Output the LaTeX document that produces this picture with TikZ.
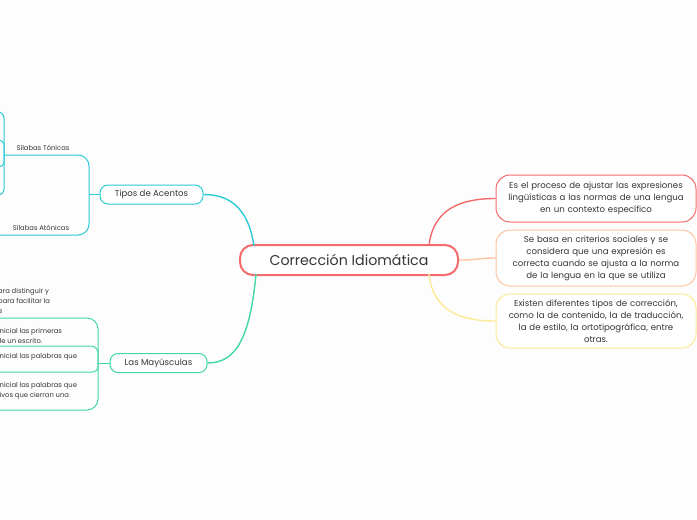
\documentclass[tikz,border=0pt]{standalone}
\usepackage{fontspec}
\setmainfont{Poppins}
\usepackage{xcolor}
\usepackage{tikz}
\usetikzlibrary{positioning}

\definecolor{coral}{HTML}{F36B6B}
\definecolor{peach}{HTML}{FDC39E}
\definecolor{lemon}{HTML}{FBEA96}
\definecolor{teal}{HTML}{2BCAD7}
\definecolor{mint}{HTML}{40D8A6}
\definecolor{ink}{HTML}{363636}
\definecolor{paper}{HTML}{FDFDFD}

\begin{document}
\begin{tikzpicture}[
  x=1pt, y=-1pt,
  root/.style={draw=coral, line width=2pt, fill=white, rounded corners=13pt, minimum width=218pt, minimum height=30pt, font=\fontsize{14.2}{16}\selectfont, text=ink},
  topic/.style={draw, line width=1pt, fill=white, rounded corners=8pt, minimum height=19pt, inner sep=0pt, font=\fontsize{8.6}{10}\selectfont, text=ink},
  note/.style={draw, line width=1pt, fill=white, rounded corners=14pt, minimum width=200pt, text width=192pt, align=center, inner sep=0pt, font=\fontsize{8.6}{12}\selectfont, text=ink},
  leaf/.style={inner sep=0pt, align=left, text=ink, font=\fontsize{6.8}{10}\selectfont},
  link/.style={line width=1.4pt},
  twig/.style={line width=1pt}
]
\fill[paper] (0,0) rectangle (697,520);
\clip (0,0) rectangle (697,520);

% centre and right side
\node[root] (root) at (349,260) {Corrección Idiomática};
\node[note, draw=coral, minimum height=47pt] (defn) at (596,198.5) {Es el proceso de ajustar las expresiones\\lingüísticas a las normas de una lengua\\en un contexto específico};
\node[note, draw=peach, minimum height=56pt] (basis) at (596,258) {Se basa en criterios sociales y se\\considera que una expresión es\\correcta cuando se ajusta a la norma\\de la lengua en la que se utiliza};
\node[note, draw=lemon, minimum height=54pt] (kinds) at (596,321) {Existen diferentes tipos de corrección,\\como la de contenido, la de traducción,\\la de estilo, la ortotipográfica, entre\\otras.};

\draw[link, coral] (429,246) .. controls (433,208) and (462,198.5) .. (defn.west);
\draw[link, peach] (root.east) .. controls (476,260) and (480,258) .. (basis.west);
\draw[link, lemon] (429,274) .. controls (433,312) and (462,321) .. (kinds.west);

% left side
\node[topic, draw=teal, minimum width=103pt] (tipos) at (151.5,194.5) {Tipos de Acentos};
\node[topic, draw=mint, minimum width=97pt] (mayus) at (158.5,363) {Las Mayúsculas};

\draw[link, teal] (254,246) .. controls (248,206) and (228,194.5) .. (tipos.east);
\draw[link, mint] (256,274) .. controls (250,338) and (236,363) .. (mayus.east);

% acentos
\coordinate (acfork) at (89,194.5);
\coordinate (tofork) at (4,155);
\draw[twig, teal] (tipos.west) -- (acfork);
\draw[twig, teal, rounded corners=11pt] (acfork) |- (tofork);
\draw[twig, teal, rounded corners=11pt] (acfork) |- (-10,235);
\node[leaf, anchor=base] (tonicas) at (43,150) {Sílabas Tónicas};
\node[leaf, anchor=base] (atonicas) at (41,230.5) {Sílabas Atónicas};
\foreach \y/\r in {112/6, 140/5, 167/5, 195/6}
  \draw[twig, teal, rounded corners=\r pt] (tofork) |- (-10,\y);

% mayusculas
\coordinate (mafork) at (98,363);
\draw[twig, mint] (mayus.west) -- (mafork);
\foreach \y/\r in {318/11, 346/7, 372/5, 410/11}
  \draw[twig, mint, rounded corners=\r pt] (mafork) |- (-10,\y);
\node[leaf, anchor=south west] (rule1) at (-2,313.5) {ara distinguir y\\para facilitar la\\e};
\node[leaf, anchor=south west] (rule2) at (-0.5,343.5) {nicial las primeras\\le un escrito.};
\node[leaf, anchor=south west] (rule3) at (-0.5,360.5) {nicial las palabras que};
\node[leaf, anchor=south west] (rule4) at (-0.5,399.5) {nicial las palabras que\\ivos que cierran una};
\end{tikzpicture}
\end{document}
